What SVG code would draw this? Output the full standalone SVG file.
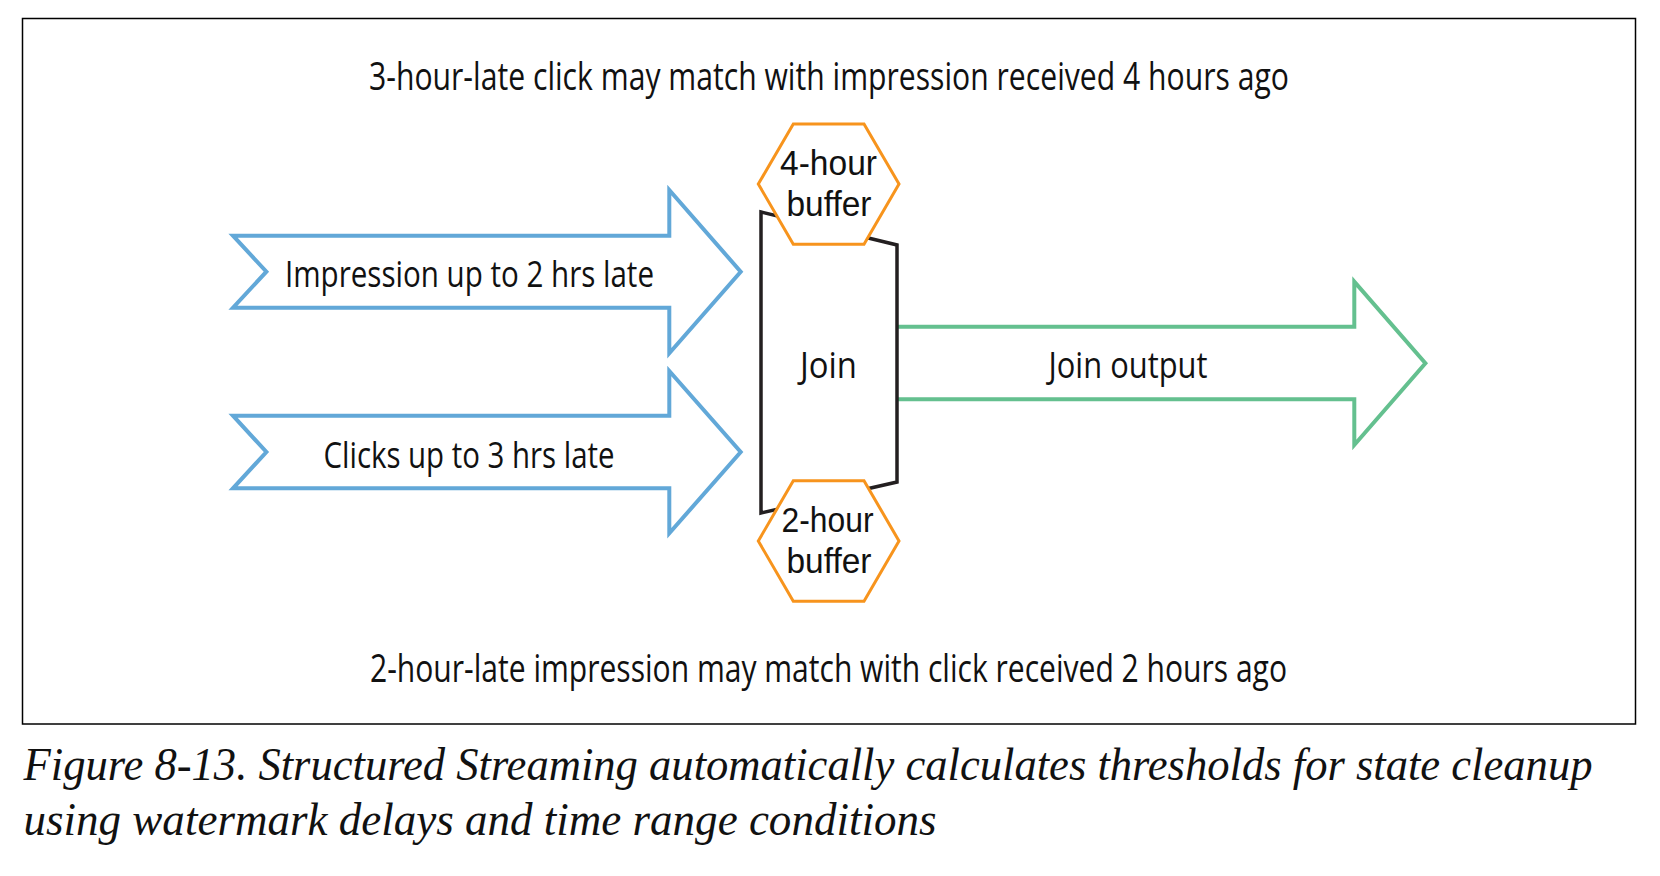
<svg xmlns="http://www.w3.org/2000/svg" width="1660" height="876" viewBox="0 0 1660 876">
<style>
.t{font-family:"Open Sans","Liberation Sans",sans-serif;font-size:36px;fill:#111}
.th{font-family:"Liberation Sans",sans-serif;font-size:35px;fill:#111}
.tb{font-family:"Open Sans","Liberation Sans",sans-serif;font-size:38px;fill:#111}
.cap{font-family:"Liberation Serif",serif;font-style:italic;font-size:46px;fill:#111}
.blue{fill:#fff;stroke:#62a8d8;stroke-width:4;stroke-linejoin:miter}
.green{fill:#fff;stroke:#64c08f;stroke-width:4}
.hex{fill:#fff;stroke:#f7941d;stroke-width:3}
.join{fill:#fff;stroke:#231f20;stroke-width:3.5}
</style>
<rect width="1660" height="876" fill="#fff"/>
<rect x="22.5" y="18.5" width="1613" height="705.5" fill="none" stroke="#000" stroke-width="1.5"/>
<text class="tb" x="369" y="90" textLength="920" lengthAdjust="spacingAndGlyphs">3-hour-late click may match with impression received 4 hours ago</text>
<text class="tb" x="370" y="682" textLength="917" lengthAdjust="spacingAndGlyphs">2-hour-late impression may match with click received 2 hours ago</text>
<g id="connectors">
<g id="impressions">
<polygon class="blue" points="233,235.7 669.3,235.7 669.3,190 740.7,271.7 669.3,353.3 669.3,307.7 233,307.7 266.4,271.7"/>
<text class="t" x="285" y="287" textLength="369" lengthAdjust="spacingAndGlyphs">Impression up to 2 hrs late</text>
</g>
<g id="clicks">
<polygon class="blue" points="233,415.7 669.3,415.7 669.3,371 740.7,452 669.3,533.3 669.3,488.3 233,488.3 266.4,452"/>
<text class="t" x="323.5" y="468" textLength="291" lengthAdjust="spacingAndGlyphs">Clicks up to 3 hrs late</text>
</g>
<g id="join-output">
<polyline class="green" points="897,326.7 1354.3,326.7 1354.3,281.7 1425.4,363.3 1354.3,445 1354.3,399.3 897,399.3"/>
<text class="t" x="1048.5" y="378" textLength="159" lengthAdjust="spacingAndGlyphs">Join output</text>
</g>
</g>
<g id="join">
<polygon class="join" points="761,212 897,245 897,482 761,513"/>
<text class="t" x="800" y="378" textLength="57" lengthAdjust="spacingAndGlyphs">Join</text>
</g>
<g id="buffer4">
<polygon class="hex" points="793.3,124 864,124 899,184 864,244.3 793.3,244.3 758.3,184"/>
<text class="th" x="780" y="175" textLength="97" lengthAdjust="spacingAndGlyphs">4-hour</text>
<text class="th" x="786.5" y="216" textLength="85" lengthAdjust="spacingAndGlyphs">buffer</text>
</g>
<g id="buffer2">
<polygon class="hex" points="793.3,480.7 864,480.7 899,541 864,601.3 793.3,601.3 758.3,541"/>
<text class="th" x="781.5" y="531.5" textLength="92" lengthAdjust="spacingAndGlyphs">2-hour</text>
<text class="th" x="786.5" y="573" textLength="85" lengthAdjust="spacingAndGlyphs">buffer</text>
</g>
<text class="cap" x="23.5" y="780" textLength="1569" lengthAdjust="spacingAndGlyphs">Figure 8-13. Structured Streaming automatically calculates thresholds for state cleanup</text>
<text class="cap" x="23.5" y="835" textLength="913" lengthAdjust="spacingAndGlyphs">using watermark delays and time range conditions</text>
</svg>
